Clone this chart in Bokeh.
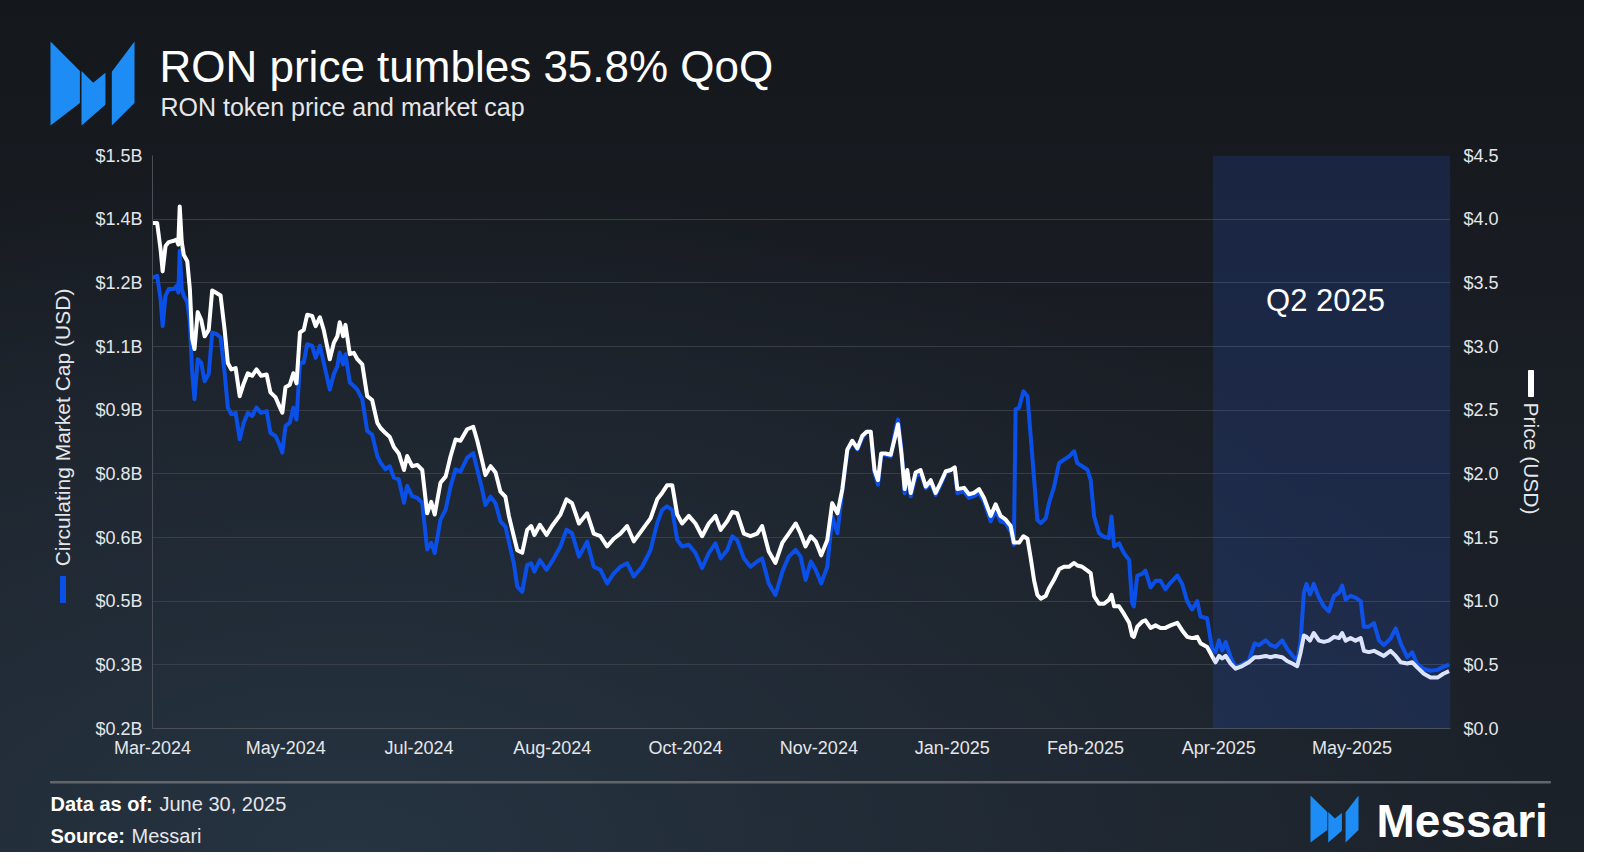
import numpy as np
import pandas as pd
from bokeh.plotting import figure
from bokeh.layouts import column, row
from bokeh.core.properties import value
from bokeh.models import (Range1d, LinearAxis, FixedTicker, NumeralTickFormatter,
                          DatetimeTickFormatter, BoxAnnotation, Label)
from bokeh.embed import file_html
from bokeh.resources import INLINE

# ---- data ----
START = pd.Timestamp("2024-03-31")
END_DAYS = 448

day_offset = [
    0.0, 1.6, 2.8, 3.5, 4.5, 5.6, 7.4, 8.3, 8.9, 9.4, 10.1, 10.8, 12.0, 12.9, 13.7, 14.5, 15.6, 16.8, 18.0, 19.4,
    20.6, 22.1, 23.5, 24.9, 26.0, 27.2, 28.7, 30.1, 31.5, 32.9, 34.4, 35.9, 37.5, 39.4, 40.7, 42.5, 44.0, 44.8, 45.9, 47.4,
    48.6, 49.7, 50.9, 52.2, 53.4, 55.1, 56.3, 57.8, 59.1, 61.2, 62.6, 63.8, 64.6, 65.8, 66.6, 68.1, 69.5, 70.7, 72.4, 74.1,
    75.8, 77.6, 78.7, 80.4, 81.9, 83.3, 85.0, 86.8, 87.9, 89.6, 91.4, 93.1, 94.8, 96.2, 97.4, 99.4, 101.2, 102.9, 104.6,
    106.3, 108.6, 110.7, 112.1, 113.8, 114.9, 116.7, 118.4, 120.1, 121.8, 123.0, 124.7, 125.9, 127.6, 129.3, 130.7, 131.8, 133.7, 136.0, 137.9,
    140.8, 142.9, 144.8, 147.2, 150.0, 152.3, 154.6, 156.9, 159.2, 161.5, 163.8, 166.1, 169.0, 171.9, 174.2, 175.9, 177.6, 179.4, 181.1, 182.8,
    185.1, 187.4, 189.7, 192.0, 194.3, 196.1, 198.4, 200.1, 201.8, 204.1, 206.4, 208.7, 210.4, 212.7, 215.0, 217.4, 219.6, 222.0,
    223.7, 225.4, 227.2, 228.9, 230.8, 232.9, 234.6, 236.4, 238.1, 239.8, 241.5, 243.3, 245.0, 246.5, 247.9, 249.2, 250.4, 251.5, 253.0, 254.8,
    256.2, 257.3, 258.5, 259.6, 260.5, 261.7, 263.4, 265.1, 266.9, 268.6, 270.3, 272.0, 273.8, 275.5, 276.9, 277.8, 280.1, 281.8, 283.5, 285.3,
    287.0, 289.3, 291.0, 292.7, 294.5, 296.2, 297.3, 297.9, 299.1, 300.6, 302.0, 303.1, 304.3, 305.4, 306.6, 308.3, 309.4, 311.2, 312.9, 314.6,
    316.3, 318.1, 319.2, 320.9, 322.7, 323.8, 325.0, 326.7, 328.4, 330.1, 331.0, 331.9, 333.6, 335.3, 337.1,
    338.1, 338.7, 339.9, 341.6, 342.7, 344.5, 346.2, 347.9, 349.6, 351.4, 353.7, 355.4, 357.1, 358.8, 360.6, 361.7, 364.0, 365.7, 366.9, 368.1,
    369.2, 370.4, 372.1, 373.8, 376.1, 378.4, 380.4, 381.9, 384.2, 385.9, 387.6, 389.9, 391.6, 393.4, 395.1, 396.2, 397.4, 398.3, 399.5, 400.8,
    402.6, 404.3, 406.0, 407.8, 409.5, 410.6, 411.8, 413.5, 415.2, 417.0, 418.1, 419.8, 421.6, 423.3, 425.0, 427.3, 429.1, 430.8, 433.1, 434.8,
    436.5, 438.8, 441.1, 443.5, 445.5, 447.5,
]

price_usd = [
    3.97, 3.97, 3.76, 3.59, 3.79, 3.82, 3.83, 3.84, 3.80, 4.10, 3.82, 3.72, 3.67, 3.45, 3.06, 2.98, 3.27, 3.21, 3.08, 3.13,
    3.44, 3.42, 3.40, 3.13, 2.87, 2.82, 2.83, 2.61, 2.71, 2.79, 2.77, 2.82, 2.77, 2.78, 2.64, 2.60, 2.52, 2.48, 2.68, 2.70,
    2.79, 2.71, 3.11, 3.13, 3.25, 3.24, 3.16, 3.23, 3.13, 2.90, 3.03, 3.08, 3.19, 3.08, 3.17, 2.94, 2.95, 2.90, 2.86, 2.61,
    2.58, 2.40, 2.36, 2.32, 2.29, 2.21, 2.16, 2.03, 2.14, 2.06, 2.07, 2.03, 1.69, 1.78, 1.68, 1.93, 1.98, 2.14, 2.27,
    2.26, 2.35, 2.37, 2.26, 2.10, 1.99, 2.06, 2.01, 1.86, 1.82, 1.67, 1.51, 1.40, 1.38, 1.56, 1.59, 1.52, 1.60, 1.52, 1.59,
    1.68, 1.80, 1.77, 1.61, 1.69, 1.53, 1.51, 1.43, 1.49, 1.53, 1.59, 1.47, 1.56, 1.65, 1.80, 1.85, 1.91, 1.91, 1.68, 1.61,
    1.67, 1.61, 1.51, 1.61, 1.67, 1.56, 1.63, 1.70, 1.69, 1.53, 1.51, 1.53, 1.59, 1.39, 1.30, 1.46, 1.53, 1.61,
    1.53, 1.43, 1.51, 1.47, 1.36, 1.48, 1.77, 1.69, 1.88, 2.19, 2.26, 2.20, 2.30, 2.33, 2.33, 2.03, 1.95, 2.16, 2.16, 2.15,
    2.28, 2.39, 2.16, 1.88, 2.03, 1.85, 2.01, 2.03, 1.90, 1.95, 1.85, 1.93, 2.02, 2.03, 2.05, 1.88, 1.89, 1.84, 1.85, 1.88,
    1.81, 1.67, 1.76, 1.67, 1.64, 1.59, 1.46, 1.46, 1.46, 1.51, 1.49, 1.34, 1.16, 1.05, 1.02, 1.04, 1.10, 1.17, 1.25, 1.27,
    1.27, 1.30, 1.28, 1.27, 1.24, 1.22, 1.04, 0.98, 0.98, 1.01, 1.05, 0.96, 0.96, 0.90, 0.83,
    0.73, 0.72, 0.80, 0.84, 0.85, 0.79, 0.81, 0.79, 0.79, 0.81, 0.83, 0.77, 0.72, 0.71, 0.72, 0.67, 0.64, 0.57, 0.52, 0.57,
    0.55, 0.57, 0.51, 0.47, 0.49, 0.52, 0.56, 0.56, 0.57, 0.56, 0.57, 0.56, 0.53, 0.51, 0.49, 0.59, 0.73, 0.72, 0.69, 0.75,
    0.69, 0.68, 0.69, 0.72, 0.71, 0.75, 0.69, 0.71, 0.69, 0.71, 0.61, 0.60, 0.61, 0.59, 0.57, 0.61, 0.57, 0.52, 0.51, 0.52,
    0.48, 0.43, 0.40, 0.40, 0.43, 0.45,
]

market_cap_b = [
    1.223, 1.227, 1.174, 1.113, 1.182, 1.197, 1.197, 1.204, 1.189, 1.284, 1.197, 1.182, 1.167, 1.121, 1.007, 0.947, 1.038, 1.030, 0.988, 1.004,
    1.098, 1.095, 1.087, 1.007, 0.928, 0.913, 0.916, 0.856, 0.894, 0.916, 0.909, 0.928, 0.916, 0.920, 0.871, 0.863, 0.841, 0.826, 0.886, 0.894,
    0.928, 0.901, 1.030, 1.030, 1.072, 1.068, 1.041, 1.068, 1.030, 0.969, 1.004, 1.022, 1.053, 1.026, 1.049, 0.985, 0.977, 0.969, 0.947, 0.875,
    0.867, 0.818, 0.803, 0.788, 0.795, 0.769, 0.765, 0.712, 0.750, 0.727, 0.723, 0.712, 0.606, 0.621, 0.598, 0.674, 0.697, 0.750, 0.788,
    0.783, 0.814, 0.825, 0.787, 0.742, 0.707, 0.726, 0.711, 0.670, 0.658, 0.624, 0.575, 0.522, 0.510, 0.571, 0.575, 0.556, 0.582, 0.560, 0.579,
    0.613, 0.651, 0.643, 0.590, 0.624, 0.567, 0.560, 0.529, 0.552, 0.567, 0.575, 0.545, 0.567, 0.605, 0.666, 0.696, 0.704, 0.696, 0.628, 0.613,
    0.617, 0.598, 0.564, 0.598, 0.620, 0.586, 0.605, 0.636, 0.628, 0.586, 0.567, 0.579, 0.586, 0.529, 0.503, 0.556, 0.590, 0.605,
    0.590, 0.537, 0.579, 0.560, 0.529, 0.567, 0.681, 0.643, 0.742, 0.829, 0.852, 0.833, 0.859, 0.874, 0.874, 0.780, 0.753, 0.821, 0.821, 0.817,
    0.870, 0.901, 0.833, 0.734, 0.780, 0.727, 0.772, 0.780, 0.745, 0.757, 0.730, 0.753, 0.780, 0.787, 0.791, 0.734, 0.738, 0.723, 0.727, 0.734,
    0.715, 0.670, 0.696, 0.670, 0.666, 0.647, 0.617, 0.924, 0.928, 0.965, 0.954, 0.863, 0.764, 0.673, 0.666, 0.677, 0.711, 0.749, 0.802, 0.810,
    0.817, 0.829, 0.802, 0.795, 0.787, 0.764, 0.681, 0.643, 0.635, 0.632, 0.681, 0.613, 0.620, 0.598, 0.582,
    0.485, 0.477, 0.547, 0.551, 0.558, 0.520, 0.535, 0.535, 0.516, 0.531, 0.547, 0.528, 0.489, 0.470, 0.489, 0.454, 0.450, 0.381, 0.373, 0.400,
    0.377, 0.396, 0.362, 0.338, 0.346, 0.354, 0.393, 0.389, 0.400, 0.389, 0.385, 0.400, 0.381, 0.366, 0.354, 0.393, 0.508, 0.528, 0.504, 0.528,
    0.497, 0.477, 0.466, 0.501, 0.508, 0.524, 0.493, 0.501, 0.497, 0.489, 0.431, 0.431, 0.439, 0.400, 0.389, 0.404, 0.427, 0.393, 0.362, 0.373,
    0.346, 0.335, 0.331, 0.333, 0.340, 0.345,
]

cap_tick_labels = ["$0.2B", "$0.3B", "$0.5B", "$0.6B", "$0.8B", "$0.9B", "$1.1B", "$1.2B", "$1.4B", "$1.5B"]
price_ticks = [0.0, 0.5, 1.0, 1.5, 2.0, 2.5, 3.0, 3.5, 4.0, 4.5]
Q2_START = pd.Timestamp("2025-04-01")

# ---- styling ----
BLUE = "#0a50e8"
LOGO = "#1d8df5"
GRID = "#393e46"
TXT = "#e4e6ea"
FONT = "Liberation Sans"
PAGE_BG = ("radial-gradient(ellipse 75% 80% at 22% 100%, rgba(38,52,66,0.95) 0%, rgba(38,52,66,0) 100%), "
           "linear-gradient(to bottom, #14171b 0%, #1a1e25 45%, #1c222a 100%)")
W, H = 1584, 852
HEAD_H, FOOT_H = 145, 79
LEFT_W, RIGHT_W = 88, 74
MID_H = H - HEAD_H - FOOT_H
FL, FR, FT, FB = 152, 1450, 155, 728   # frame edges on the whole canvas

n = min(len(day_offset), len(price_usd), len(market_cap_b))
dates = START + pd.to_timedelta(np.array(day_offset[:n]), unit="D")


def ms(ts):
    return ts.value / 1e6


def deco(w, h):
    f = figure(width=w, height=h, x_range=Range1d(0, w), y_range=Range1d(h, 0),
               output_backend="svg", toolbar_location=None, x_axis_location=None, y_axis_location=None,
               min_border=0, background_fill_alpha=0, border_fill_alpha=0, outline_line_color=None)
    f.grid.visible = False
    f.frame_align = False
    return f


def put_text(f, x, y, s, size, style="normal", align="left", angle=0, color=TXT):
    f.text(x=[x], y=[y], text=[s], text_font=value(FONT), text_font_size=f"{size}px",
           text_font_style=style, text_align=align, text_baseline="middle", angle=angle, text_color=color)


def logo(f, x0, y0, w, h):
    pieces = [
        [(0, 0), (0.35, 0.352), (0.35, 0.732), (0, 1)],
        [(0.369, 0.352), (0.508, 0.492), (0.654, 0.372), (0.654, 0.752), (0.369, 1)],
        [(0.730, 0.36), (1, 0), (1, 0.732), (0.730, 1)],
    ]
    f.patches(xs=[[x0 + u * w for u, v in pc] for pc in pieces],
              ys=[[y0 + v * h for u, v in pc] for pc in pieces],
              fill_color=LOGO, line_color=None)


# ---- main chart ----
MAIN_W = W - LEFT_W - RIGHT_W
p = figure(width=MAIN_W, height=MID_H, x_axis_type="datetime",
           x_range=Range1d(ms(START), ms(START + pd.Timedelta(days=END_DAYS))),
           y_range=Range1d(0.2, 1.5),
           output_backend="svg", toolbar_location=None,
           min_border_left=FL - LEFT_W, min_border_right=W - RIGHT_W - FR,
           min_border_top=FT - HEAD_H, min_border_bottom=HEAD_H + MID_H - FB,
           background_fill_alpha=0, border_fill_alpha=0, outline_line_color=None)
p.frame_align = False
p.extra_y_ranges = {"price": Range1d(0, 4.5)}

p.line(dates, market_cap_b[:n], color=BLUE, line_width=4, line_join="round")
p.line(dates, price_usd[:n], y_range_name="price", color="white", line_width=4, line_join="round")

p.add_layout(BoxAnnotation(left=ms(Q2_START), right=ms(START + pd.Timedelta(days=END_DAYS)),
                           fill_color="#2860f0", fill_alpha=0.17, line_color=None))
p.add_layout(Label(x=1325 - FL, y=FB - 300, x_units="screen", y_units="screen", text="Q2 2025",
                   text_font=FONT, text_font_size="31px", text_color="white",
                   text_align="center", text_baseline="middle"))

cap_ticks = list(np.linspace(0.2, 1.5, len(cap_tick_labels)))
yl = p.yaxis[0]
yl.ticker = FixedTicker(ticks=cap_ticks)
yl.major_label_overrides = dict(zip(cap_ticks, cap_tick_labels))
yr = LinearAxis(y_range_name="price", ticker=FixedTicker(ticks=price_ticks),
                formatter=NumeralTickFormatter(format="$0.0"))
p.add_layout(yr, "right")

x_ticks = [ms(START + pd.Timedelta(days=46 * i)) for i in range(10)]
xa = p.xaxis[0]
xa.ticker = FixedTicker(ticks=x_ticks)
fmt = "%b-%Y"
xa.formatter = DatetimeTickFormatter(milliseconds=fmt, seconds=fmt, minsec=fmt, minutes=fmt, hourmin=fmt,
                                     hours=fmt, days=fmt, months=fmt, years=fmt)

for ax in (yl, yr, xa):
    ax.major_tick_line_color = None
    ax.minor_tick_line_color = None
    ax.major_tick_out = 0
    ax.major_tick_in = 0
    ax.major_label_text_font = FONT
    ax.major_label_text_font_size = "18px"
    ax.major_label_text_color = TXT
yl.axis_line_color = "#4a4f57"
yr.axis_line_color = None
xa.axis_line_color = "#4a4f57"
yl.major_label_standoff = 10
yr.major_label_standoff = 13
xa.major_label_standoff = 9

p.xgrid.grid_line_color = None
p.ygrid.ticker = FixedTicker(ticks=cap_ticks)
p.ygrid.grid_line_color = GRID
p.ygrid.grid_line_width = 1

# ---- header ----
head = deco(W, HEAD_H)
logo(head, 50, 41, 84, 84)
put_text(head, 159, 66, "RON price tumbles 35.8% QoQ", 44, color="white")
put_text(head, 160, 106, "RON token price and market cap", 25)

# ---- side strips with the axis titles ----
left = deco(LEFT_W, MID_H)
put_text(left, 62, 427 - HEAD_H, "Circulating Market Cap (USD)", 21, align="center", angle=np.pi / 2)
left.quad(left=[60], right=[65], top=[576 - HEAD_H], bottom=[602 - HEAD_H], color=BLUE)

right = deco(RIGHT_W, MID_H)
put_text(right, 1531 - (W - RIGHT_W), 458 - HEAD_H, "Price (USD)", 21, align="center", angle=-np.pi / 2)
right.quad(left=[1528 - (W - RIGHT_W)], right=[1533 - (W - RIGHT_W)],
           top=[370 - HEAD_H], bottom=[396 - HEAD_H], color="white")

# ---- footer ----
FY = HEAD_H + MID_H
foot = deco(W, FOOT_H)
foot.quad(left=[50], right=[1550], top=[781 - FY], bottom=[782.5 - FY], color="#62666d")
put_text(foot, 50, 803 - FY, "Data as of:", 20, style="bold", color="white")
put_text(foot, 159, 803 - FY, "June 30, 2025", 20)
put_text(foot, 50, 835 - FY, "Source:", 20, style="bold", color="white")
put_text(foot, 131, 835 - FY, "Messari", 20)
logo(foot, 1310, 795 - FY, 48, 47)
put_text(foot, 1376, 820 - FY, "Messari", 46, style="bold", color="white")

layout = column(head, row(left, p, right, spacing=0), foot, spacing=0,
                styles={"background": PAGE_BG})
open("out.html", "w").write(file_html(layout, INLINE))
